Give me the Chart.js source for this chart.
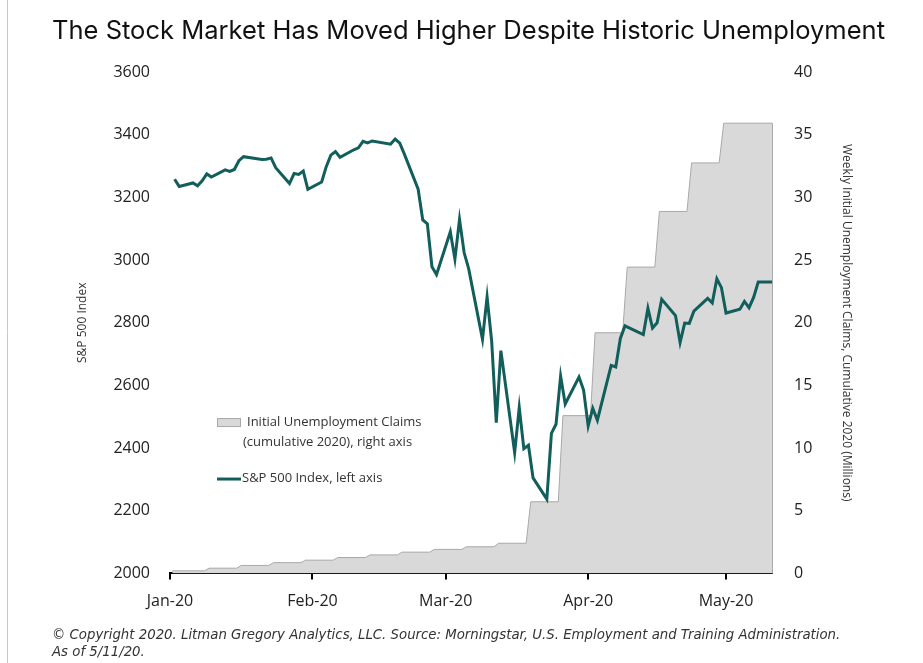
<!DOCTYPE html>
<html>
<head>
<meta charset="utf-8">
<script src="https://cdn.jsdelivr.net/npm/chart.js@4.4.1/dist/chart.umd.min.js"></script>
<style>
  body { margin: 0; background: #fff; }
  #wrap { width: 923px; height: 663px; position: relative; }
</style>
</head>
<body>
<div id="wrap"><canvas id="myChart"></canvas></div>
<script>
// S&P 500 closes (trading days)
const spxDates = [
  '2020-01-02','2020-01-03','2020-01-06','2020-01-07','2020-01-08','2020-01-09','2020-01-10','2020-01-13','2020-01-14','2020-01-15',
  '2020-01-16','2020-01-17','2020-01-21','2020-01-22','2020-01-23','2020-01-24','2020-01-27','2020-01-28','2020-01-29','2020-01-30','2020-01-31',
  '2020-02-03','2020-02-04','2020-02-05','2020-02-06','2020-02-07','2020-02-10','2020-02-11','2020-02-12','2020-02-13','2020-02-14',
  '2020-02-18','2020-02-19','2020-02-20','2020-02-21','2020-02-24','2020-02-25','2020-02-26','2020-02-27','2020-02-28',
  '2020-03-02','2020-03-03','2020-03-04','2020-03-05','2020-03-06','2020-03-09','2020-03-10','2020-03-11','2020-03-12','2020-03-13',
  '2020-03-16','2020-03-17','2020-03-18','2020-03-19','2020-03-20','2020-03-23','2020-03-24','2020-03-25','2020-03-26','2020-03-27',
  '2020-03-30','2020-03-31',
  '2020-04-01','2020-04-02','2020-04-03','2020-04-06','2020-04-07','2020-04-08','2020-04-09','2020-04-13','2020-04-14','2020-04-15',
  '2020-04-16','2020-04-17','2020-04-20','2020-04-21','2020-04-22','2020-04-23','2020-04-24','2020-04-27','2020-04-28','2020-04-29','2020-04-30',
  '2020-05-01','2020-05-04','2020-05-05','2020-05-06','2020-05-07','2020-05-08','2020-05-11'
]
const spxValues = [
  3258, 3235, 3246, 3237, 3253, 3275, 3265, 3288, 3283, 3289,
  3317, 3330, 3321, 3322, 3326, 3295, 3244, 3276, 3273, 3284, 3226,
  3249, 3298, 3335, 3346, 3328, 3352, 3358, 3379, 3374, 3380,
  3370, 3386, 3373, 3338, 3226, 3128, 3116, 2979, 2954,
  3090, 3003, 3130, 3024, 2972, 2747, 2882, 2741, 2481, 2711,
  2386, 2529, 2398, 2409, 2305, 2237, 2447, 2476, 2630, 2541,
  2627, 2585,
  2471, 2527, 2489, 2664, 2659, 2750, 2790, 2762, 2846, 2783,
  2800, 2875, 2823, 2737, 2799, 2798, 2837, 2878, 2863, 2940, 2912,
  2831, 2843, 2868, 2848, 2881, 2930, 2930
]

// cumulative initial claims (millions), each level starts on the given date
const claimDates = [
  '2020-01-02','2020-01-09','2020-01-16','2020-01-23','2020-01-30','2020-02-06','2020-02-13','2020-02-20','2020-02-27',
  '2020-03-05','2020-03-12','2020-03-19','2020-03-26','2020-04-02','2020-04-09','2020-04-16','2020-04-23','2020-04-30'
]
const claimValues = [0.21, 0.42, 0.64, 0.86, 1.06, 1.27, 1.48, 1.70, 1.92, 2.13, 2.41, 5.72, 12.59, 19.20, 24.44, 28.88, 32.75, 35.92]
const claimsEnd = '2020-05-11'

const monthDates = ['2020-01-01','2020-02-01','2020-03-01','2020-04-01','2020-05-01']
const monthLabels = ['Jan-20','Feb-20','Mar-20','Apr-20','May-20']

const leftTicks = { min: 2000, max: 3600, step: 200 }
const rightTicks = { min: 0, max: 40, step: 5 }

const TEAL = '#115e5b'
const GREY_FILL = '#d9d9d9'
const GREY_LINE = '#a9a9a9'

function dayOf(s) {
    return (Date.parse(s) - Date.parse('2020-01-01')) / 864e5
}

function buildData() {
    const spx = spxDates.map((d, i) => ({x: dayOf(d), y: spxValues[i]}))
    // step shape: previous level held until half a day before the new one
    const claims = []
    claimDates.forEach((d, i) => {
        const day = dayOf(d)
        if (i > 0) claims.push({x: day - 0.5, y: claimValues[i-1]})
        claims.push({x: day + (i > 0 ? 0.5 : -0.5), y: claimValues[i]})
    })
    claims.push({x: dayOf(claimsEnd), y: claimValues[claimValues.length - 1]})
    return {spx, claims}
}

const legendPlugin = {
    id: 'insideLegend',
    afterDatasetsDraw(chart) {
        const ctx = chart.ctx
        const a = chart.chartArea
        const x0 = a.left + 47
        const y0 = a.top + 346
        ctx.save()
        ctx.fillStyle = GREY_FILL
        ctx.strokeStyle = GREY_LINE
        ctx.lineWidth = 1
        ctx.fillRect(x0, y0, 24, 9)
        ctx.strokeRect(x0 + 0.5, y0 + 0.5, 23, 8)
        ctx.fillStyle = '#333'
        ctx.font = '13px "Open Sans"'
        ctx.textBaseline = 'middle'
        ctx.fillText('Initial Unemployment Claims', x0 + 30, y0 + 4)
        ctx.fillText('(cumulative 2020), right axis', x0 + 26, y0 + 24)
        ctx.strokeStyle = TEAL
        ctx.lineWidth = 3
        ctx.beginPath()
        ctx.moveTo(x0, y0 + 61)
        ctx.lineTo(x0 + 24, y0 + 61)
        ctx.stroke()
        ctx.fillText('S&P 500 Index, left axis', x0 + 25, y0 + 60)
        ctx.restore()
    }
}

const edgePlugin = {
    id: 'areaEdge',
    beforeDatasetsDraw(chart) {
        // closing right edge of the claims area
        const meta = chart.getDatasetMeta(1)
        const last = meta.data[meta.data.length - 1]
        const ctx = chart.ctx
        ctx.save()
        ctx.strokeStyle = GREY_LINE
        ctx.lineWidth = 1
        ctx.beginPath()
        ctx.moveTo(Math.round(last.x) + 0.5, last.y)
        ctx.lineTo(Math.round(last.x) + 0.5, chart.chartArea.bottom)
        ctx.stroke()
        ctx.restore()
    },
    beforeDraw(chart) {
        const ctx = chart.ctx
        ctx.save()
        ctx.strokeStyle = '#c8c8c8'
        ctx.lineWidth = 1
        ctx.beginPath()
        ctx.moveTo(7.5, 0)
        ctx.lineTo(7.5, chart.height)
        ctx.stroke()
        ctx.restore()
    }
}

function drawChart() {
    const ctx = document.getElementById('myChart')
    const raw = buildData()
    const tickFont = {family: '"Open Sans"', size: 16}

    const data = {
        datasets: [{
            type: 'line',
            label: 'S&P 500 Index, left axis',
            data: raw.spx,
            borderColor: TEAL,
            borderWidth: 3,
            pointRadius: 0,
            tension: 0,
            fill: false,
            yAxisID: 'yleft'
        }, {
            type: 'line',
            label: 'Initial Unemployment Claims (cumulative 2020), right axis',
            data: raw.claims,
            borderColor: GREY_LINE,
            borderWidth: 1,
            backgroundColor: GREY_FILL,
            pointRadius: 0,
            tension: 0,
            fill: 'origin',
            yAxisID: 'yright'
        }]
    }

    const config = {
        type: 'scatter',
        data: data,
        options: {
            responsive: true,
            maintainAspectRatio: false,
            animation: false,
            layout: {padding: {left: 52, right: 38, top: 0, bottom: 0}},
            plugins: {
                legend: {display: false},
                tooltip: {enabled: false},
                title: {
                    display: true,
                    text: 'The Stock Market Has Moved Higher Despite Historic Unemployment',
                    color: '#111',
                    font: {family: 'Inter', size: 25.7, weight: '400', lineHeight: 1.2},
                    padding: {top: 15.6, bottom: 25.6}
                },
                subtitle: {
                    display: true,
                    position: 'bottom',
                    align: 'start',
                    text: ['\u00a9 Copyright 2020. Litman Gregory Analytics, LLC. Source: Morningstar, U.S. Employment and Training Administration.',
                           'As of 5/11/20.'],
                    color: '#333',
                    font: {family: '"DejaVu Sans"', size: 13.3, style: 'italic', lineHeight: 1.28},
                    padding: {top: 0, bottom: 2}
                }
            },
            scales: {
                x: {
                    type: 'linear',
                    min: 0,
                    max: dayOf(claimsEnd),
                    afterBuildTicks: (scale) => {
                        scale.ticks = monthDates.map(d => ({value: dayOf(d)}))
                    },
                    afterFit: (scale) => { scale.height = 53.5 },
                    ticks: {
                        autoSkip: false,
                        maxRotation: 0,
                        padding: 12,
                        color: '#222',
                        font: tickFont,
                        callback: (v, i) => monthLabels[i]
                    },
                    grid: {display: true, drawOnChartArea: false, drawTicks: true, tickLength: 6, color: '#000', lineWidth: 2},
                    border: {display: true, color: '#000', width: 2}
                },
                yleft: {
                    position: 'left',
                    min: leftTicks.min,
                    max: leftTicks.max,
                    afterFit: (scale) => { scale.width = 118 },
                    ticks: {stepSize: leftTicks.step, padding: 20, color: '#222', font: tickFont, callback: (v) => String(v)},
                    grid: {display: false, drawTicks: false},
                    border: {display: false},
                    title: {
                        display: true,
                        text: 'S&P 500 Index',
                        color: '#333',
                        font: {family: '"Open Sans"', size: 12, lineHeight: 1.2},
                        padding: {top: 23.8, bottom: 0}
                    }
                },
                yright: {
                    position: 'right',
                    min: rightTicks.min,
                    max: rightTicks.max,
                    afterFit: (scale) => { scale.width = 113 },
                    ticks: {stepSize: rightTicks.step, padding: 22, color: '#222', font: tickFont},
                    grid: {display: false, drawTicks: false},
                    border: {display: false},
                    title: {
                        display: true,
                        text: 'Weekly Initial Unemployment Claims, Cumulative 2020 (Millions)',
                        color: '#333',
                        font: {family: '"Open Sans"', size: 12, lineHeight: 1.2},
                        padding: {top: 31.8, bottom: 0}
                    }
                }
            }
        },
        plugins: [legendPlugin, edgePlugin]
    }

    new Chart(ctx, config)
}

document.addEventListener('DOMContentLoaded', drawChart)
</script>
</body>
</html>
